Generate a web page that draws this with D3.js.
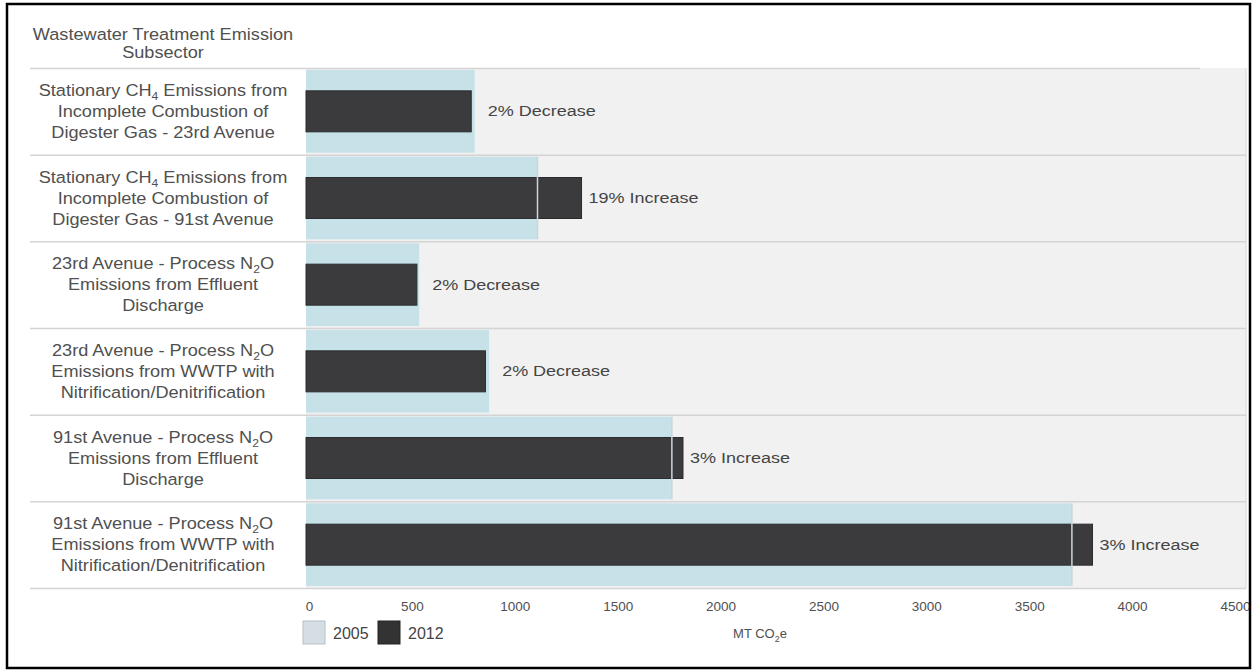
<!DOCTYPE html>
<html>
<head>
<meta charset="utf-8">
<script src="https://cdn.jsdelivr.net/npm/d3@7/dist/d3.min.js"></script>
<style>
  html, body { margin: 0; padding: 0; background: #fff; }
  svg { display: block; font-family: "Liberation Sans", Arial, sans-serif; }
</style>
</head>
<body>
<svg id="chart" width="1255" height="671"></svg>
<script>
// Wastewater treatment emission subsectors, MT CO2e, 2005 vs 2012
// Each label is a list of lines; each line is a list of [text, isSubscript] pieces.
const categories = [
  [[["Stationary CH", 0], ["4", 1], [" Emissions from", 0]], [["Incomplete Combustion of", 0]], [["Digester Gas - 23rd Avenue", 0]]],
  [[["Stationary CH", 0], ["4", 1], [" Emissions from", 0]], [["Incomplete Combustion of", 0]], [["Digester Gas - 91st Avenue", 0]]],
  [[["23rd Avenue - Process N", 0], ["2", 1], ["O", 0]], [["Emissions from Effluent", 0]], [["Discharge", 0]]],
  [[["23rd Avenue - Process N", 0], ["2", 1], ["O", 0]], [["Emissions from WWTP with", 0]], [["Nitrification/Denitrification", 0]]],
  [[["91st Avenue - Process N", 0], ["2", 1], ["O", 0]], [["Emissions from Effluent", 0]], [["Discharge", 0]]],
  [[["91st Avenue - Process N", 0], ["2", 1], ["O", 0]], [["Emissions from WWTP with", 0]], [["Nitrification/Denitrification", 0]]]
];
const values2005 = [820, 1125, 550, 890, 1778, 3722];
const values2012 = [803, 1339, 539, 872, 1832, 3822];
const changeLabels = ["2% Decrease", "19% Increase", "2% Decrease", "2% Decrease", "3% Increase", "3% Increase"];
const xTicks = [0, 500, 1000, 1500, 2000, 2500, 3000, 3500, 4000, 4500];
const seriesNames = ["2005", "2012"];

const svg = d3.select("#chart");
const W = 1255, H = 671;

const plot = { left: 306, right: 1246, top: 68, bottom: 588 };
const x = d3.scaleLinear().domain([0, 4500]).range([306, 1232]);
const y = d3.scaleBand().domain(d3.range(categories.length))
  .range([plot.top, plot.bottom]).paddingInner(0.0).paddingOuter(0);

const colLight = "#c6e2e8";
const colDark = "#3b3b3d";
const textCol = "#505050";

// writes [text, isSubscript] pieces into a text element
function writeParts(t, parts, subSize) {
  let lowered = false;
  parts.forEach(([s, sub]) => {
    const span = t.append("tspan").text(s);
    if (sub) { span.attr("font-size", subSize).attr("dy", 4); lowered = true; }
    else if (lowered) { span.attr("dy", -4); lowered = false; }
  });
}

// plot background
svg.append("rect")
  .attr("x", plot.left).attr("y", plot.top)
  .attr("width", plot.right - plot.left).attr("height", plot.bottom - plot.top)
  .attr("fill", "#f1f1f1");
svg.append("line")
  .attr("x1", plot.right).attr("x2", plot.right)
  .attr("y1", plot.top).attr("y2", plot.bottom)
  .attr("stroke", "#e2e2e2").attr("stroke-width", 1.5);

// row separators
const bounds = d3.range(categories.length + 1).map(i => i < categories.length ? y(i) : plot.bottom);
svg.append("g").selectAll("line").data(bounds).join("line")
  .attr("x1", 30).attr("x2", (d, i) => i === 0 ? 1200 : plot.right)
  .attr("y1", d => d + 0.5).attr("y2", d => d + 0.5)
  .attr("stroke", "#d4d4d4").attr("stroke-width", 1.5);

// 2005 bars (wide)
const bw = y.bandwidth();
svg.append("g").selectAll("rect").data(values2005).join("rect")
  .attr("x", x(0))
  .attr("y", (d, i) => y(i) + 2)
  .attr("width", d => x(d) - x(0))
  .attr("height", bw - 4)
  .attr("fill", colLight);

// 2012 bars (narrow)
const dh = 41;
svg.append("g").selectAll("rect").data(values2012).join("rect")
  .attr("x", x(0))
  .attr("y", (d, i) => y(i) + bw / 2 - dh / 2)
  .attr("width", d => x(d) - x(0))
  .attr("height", dh)
  .attr("fill", colDark)
  .attr("stroke", "#2c2c2e").attr("stroke-width", 1);

// 2005 end marker visible through taller 2012 bars
svg.append("g").selectAll("line")
  .data(values2005.map((v, i) => ({ v, i })).filter(d => values2012[d.i] > d.v))
  .join("line")
  .attr("x1", d => x(d.v)).attr("x2", d => x(d.v))
  .attr("y1", d => y(d.i) + 2).attr("y2", d => y(d.i) + bw - 2)
  .attr("stroke", "#c9d6da").attr("stroke-width", 1.5);

// change labels, placed just past the longer of the two bars
svg.append("g").selectAll("text").data(changeLabels).join("text")
  .attr("transform", (d, i) => {
    const up = values2012[i] > values2005[i];
    const lx = x(Math.max(values2005[i], values2012[i])) + (up ? 7 : 13);
    return `translate(${lx},${y(i) + bw / 2 + 5}) scale(1.2,1)`;
  })
  .attr("font-size", 15).attr("fill", "#444")
  .text(d => d);

// category labels
const labelG = svg.append("g");
categories.forEach((lines, i) => {
  const cy = y(i) + bw / 2;
  lines.forEach((parts, j) => {
    const t = labelG.append("text")
      .attr("transform", `translate(163,${cy + (j - 1) * 21 + 5.5}) scale(1.1,1)`)
      .attr("text-anchor", "middle")
      .attr("font-size", 16.5).attr("fill", textCol);
    writeParts(t, parts, 11);
  });
});

// header
svg.append("text").attr("transform", "translate(163,40) scale(1.1,1)").attr("text-anchor", "middle")
  .attr("font-size", 16.5).attr("fill", textCol).text("Wastewater Treatment Emission");
svg.append("text").attr("transform", "translate(163,58) scale(1.1,1)").attr("text-anchor", "middle")
  .attr("font-size", 16.5).attr("fill", textCol).text("Subsector");

// x axis
const xAxis = d3.axisBottom(x).tickValues(xTicks).tickFormat(d3.format("d")).tickSize(0).tickPadding(0);
const ax = svg.append("g").attr("transform", `translate(0, ${plot.bottom + 23})`).call(xAxis);
ax.select(".domain").remove();
ax.selectAll("text").attr("font-size", 13.5).attr("fill", textCol)
  .attr("font-family", "Liberation Sans, Arial, sans-serif").attr("dy", 0).attr("dx", 3);

// axis title
const at = svg.append("text").attr("x", 760).attr("y", 638).attr("text-anchor", "middle")
  .attr("font-size", 13).attr("fill", textCol);
writeParts(at, [["MT CO", 0], ["2", 1], ["e", 0]], 9);

// legend
const legend = [
  { name: seriesNames[0], fill: "#d5dfe3", stroke: "#b8c0c4", x: 303 },
  { name: seriesNames[1], fill: "#333", stroke: "#222", x: 378 }
];
const lg = svg.append("g").selectAll("g").data(legend).join("g");
lg.append("rect").attr("x", d => d.x).attr("y", 621).attr("width", 22).attr("height", 23)
  .attr("fill", d => d.fill).attr("stroke", d => d.stroke);
lg.append("text").attr("x", d => d.x + 30).attr("y", 639)
  .attr("font-size", 16).attr("fill", "#444").text(d => d.name);

// outer frame
svg.append("rect").attr("x", 7).attr("y", 4).attr("width", W - 12).attr("height", H - 7)
  .attr("fill", "none").attr("stroke", "#000").attr("stroke-width", 2.5);
</script>
</body>
</html>
